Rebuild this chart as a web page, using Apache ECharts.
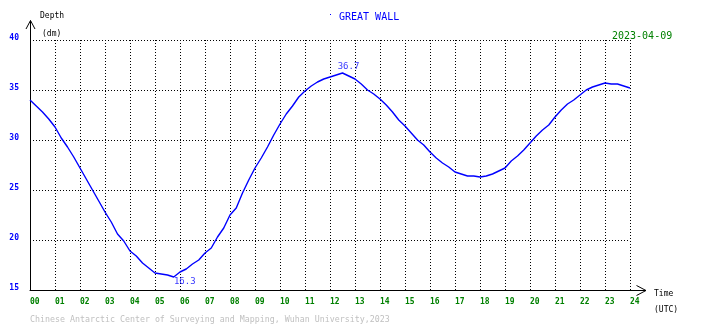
<!DOCTYPE html>
<html>
<head>
<meta charset="utf-8">
<script src="https://cdn.jsdelivr.net/npm/echarts@6/dist/echarts.min.js"></script>
<style>
  html, body { margin: 0; padding: 0; background: #fff; }
  #chart { width: 710px; height: 328px; }
</style>
</head>
<body>
<div id="chart"></div>
<script>
// Tide depth at Great Wall station, 2023-04-09, every 15 minutes (UTC)
var hours = [
  0, 0.25, 0.5, 0.75, 1, 1.25, 1.5, 1.75, 2, 2.25, 2.5, 2.75,
  3, 3.25, 3.5, 3.75, 4, 4.25, 4.5, 4.75, 5, 5.25, 5.5, 5.75,
  6, 6.25, 6.5, 6.75, 7, 7.25, 7.5, 7.75, 8, 8.25, 8.5, 8.75,
  9, 9.25, 9.5, 9.75, 10, 10.25, 10.5, 10.75, 11, 11.25, 11.5, 11.75,
  12, 12.25, 12.5, 12.75, 13, 13.25, 13.5, 13.75, 14, 14.25, 14.5, 14.75,
  15, 15.25, 15.5, 15.75, 16, 16.25, 16.5, 16.75, 17, 17.25, 17.5, 17.75,
  18, 18.25, 18.5, 18.75, 19, 19.25, 19.5, 19.75, 20, 20.25, 20.5, 20.75,
  21, 21.25, 21.5, 21.75, 22, 22.25, 22.5, 22.75, 23, 23.25, 23.5, 23.75, 24
];
var depth = [
  34.0, 33.4, 32.8, 32.1, 31.3, 30.2, 29.3, 28.3, 27.2, 26.1, 25.0, 23.9,
  22.8, 21.8, 20.6, 19.9, 18.9, 18.4, 17.7, 17.2, 16.7, 16.6, 16.5, 16.3,
  16.8, 17.1, 17.6, 18.0, 18.7, 19.2, 20.3, 21.2, 22.5, 23.2, 24.7, 26.0,
  27.2, 28.2, 29.3, 30.5, 31.6, 32.6, 33.4, 34.3, 34.9, 35.4, 35.8, 36.1,
  36.3, 36.5, 36.7, 36.4, 36.1, 35.6, 35.0, 34.6, 34.1, 33.5, 32.8, 32.0,
  31.4, 30.7, 30.0, 29.5, 28.8, 28.2, 27.7, 27.3, 26.8, 26.6, 26.4, 26.4,
  26.3, 26.4, 26.6, 26.9, 27.2, 27.9, 28.4, 29.0, 29.7, 30.4, 31.0, 31.5,
  32.3, 33.0, 33.6, 34.0, 34.5, 35.0, 35.3, 35.5, 35.7, 35.6, 35.6, 35.4, 35.2
];
var hourTicks = ['00','01','02','03','04','05','06','07','08','09','10','11','12',
                 '13','14','15','16','17','18','19','20','21','22','23','24'];
var stationName = 'GREAT WALL';
var dateText = '2023-04-09';
var creditText = 'Chinese Antarctic Center of Surveying and Mapping, Wuhan University,2023';

var MONO = '"DejaVu Sans Mono", "Liberation Mono", monospace';

// high and low water points, labelled with their own values
var hiIdx = depth.indexOf(Math.max.apply(null, depth));
var loIdx = depth.indexOf(Math.min.apply(null, depth));

var chart = echarts.init(document.getElementById('chart'), null, { renderer: 'canvas' });

var option = {
  backgroundColor: '#ffffff',
  animation: false,
  grid: { left: 30, top: 40, width: 600, height: 250, containLabel: false },
  xAxis: {
    type: 'value', min: 0, max: 24, interval: 1,
    axisLine: { show: true, onZero: false, lineStyle: { color: '#000', width: 1 } },
    axisTick: { show: false },
    splitLine: { show: true, lineStyle: { color: '#000', type: [1, 2], width: 1 } },
    axisLabel: {
      color: '#008000', fontFamily: MONO, fontSize: 8, fontWeight: 'bold',
      align: 'left', margin: 8, showMinLabel: true, showMaxLabel: true,
      formatter: function (v) { return hourTicks[Math.round(v)]; }
    }
  },
  yAxis: {
    type: 'value', min: 15, max: 40, interval: 5,
    axisLine: { show: true, onZero: false, lineStyle: { color: '#000', width: 1 } },
    axisTick: { show: false },
    splitLine: { show: true, lineStyle: { color: '#000', type: [1, 2], width: 1 } },
    axisLabel: {
      color: '#0000ff', fontFamily: MONO, fontSize: 8, fontWeight: 'bold',
      margin: 11, verticalAlign: 'bottom', lineHeight: 5
    }
  },
  series: [
    {
      type: 'line',
      data: hours.map(function (h, i) { return [h, depth[i]]; }),
      showSymbol: false,
      symbol: 'none',
      lineStyle: { color: '#0000ff', width: 1.4 },
      z: 3
    },
    {
      type: 'scatter',
      data: [
        { value: [hours[hiIdx], depth[hiIdx]], label: { position: 'top', offset: [6, 4] } },
        { value: [hours[loIdx], depth[loIdx]], label: { position: 'bottom', offset: [11, -6] } }
      ],
      symbolSize: 2,
      itemStyle: { color: 'rgba(0,0,0,0)' },
      label: {
        show: true, color: '#0000ff', fontFamily: MONO, fontSize: 9,
        formatter: function (p) { return p.value[1].toFixed(1); }
      },
      silent: true,
      z: 4
    }
  ],
  graphic: [
    // axis extensions with open arrow heads
    { type: 'polyline', shape: { points: [[30.5, 40], [30.5, 20.5]] }, style: { stroke: '#000', lineWidth: 1, fill: null } },
    { type: 'polyline', shape: { points: [[26, 29], [30.5, 20.5], [35, 29]] }, style: { stroke: '#000', lineWidth: 1, fill: null } },
    { type: 'polyline', shape: { points: [[630, 290.5], [646, 290.5]] }, style: { stroke: '#000', lineWidth: 1, fill: null } },
    { type: 'polyline', shape: { points: [[636.5, 285.5], [646, 290.5], [636.5, 295.5]] }, style: { stroke: '#000', lineWidth: 1, fill: null } },
    // axis titles
    { type: 'text', left: 40, top: 12, style: { text: 'Depth', fill: '#000', font: '8px ' + MONO } },
    { type: 'text', left: 42, top: 30, style: { text: '(dm)', fill: '#000', font: '8px ' + MONO } },
    { type: 'text', left: 654, top: 290, style: { text: 'Time', fill: '#000', font: '8px ' + MONO } },
    { type: 'text', left: 654, top: 306, style: { text: '(UTC)', fill: '#000', font: '8px ' + MONO } },
    // station name and date
    { type: 'rect', shape: { x: 330, y: 14, width: 1, height: 1 }, style: { fill: '#0000ff' } },
    { type: 'text', left: 339, top: 12, style: { text: stationName, fill: '#0000ff', font: '10px ' + MONO } },
    { type: 'text', left: 612, top: 31, style: { text: dateText, fill: '#008000', font: '10px ' + MONO } },
    // credit line
    { type: 'text', left: 30, top: 316, style: { text: creditText, fill: '#c0c0c0', font: '8.3px ' + MONO } }
  ]
};

chart.setOption(option);
</script>
</body>
</html>
